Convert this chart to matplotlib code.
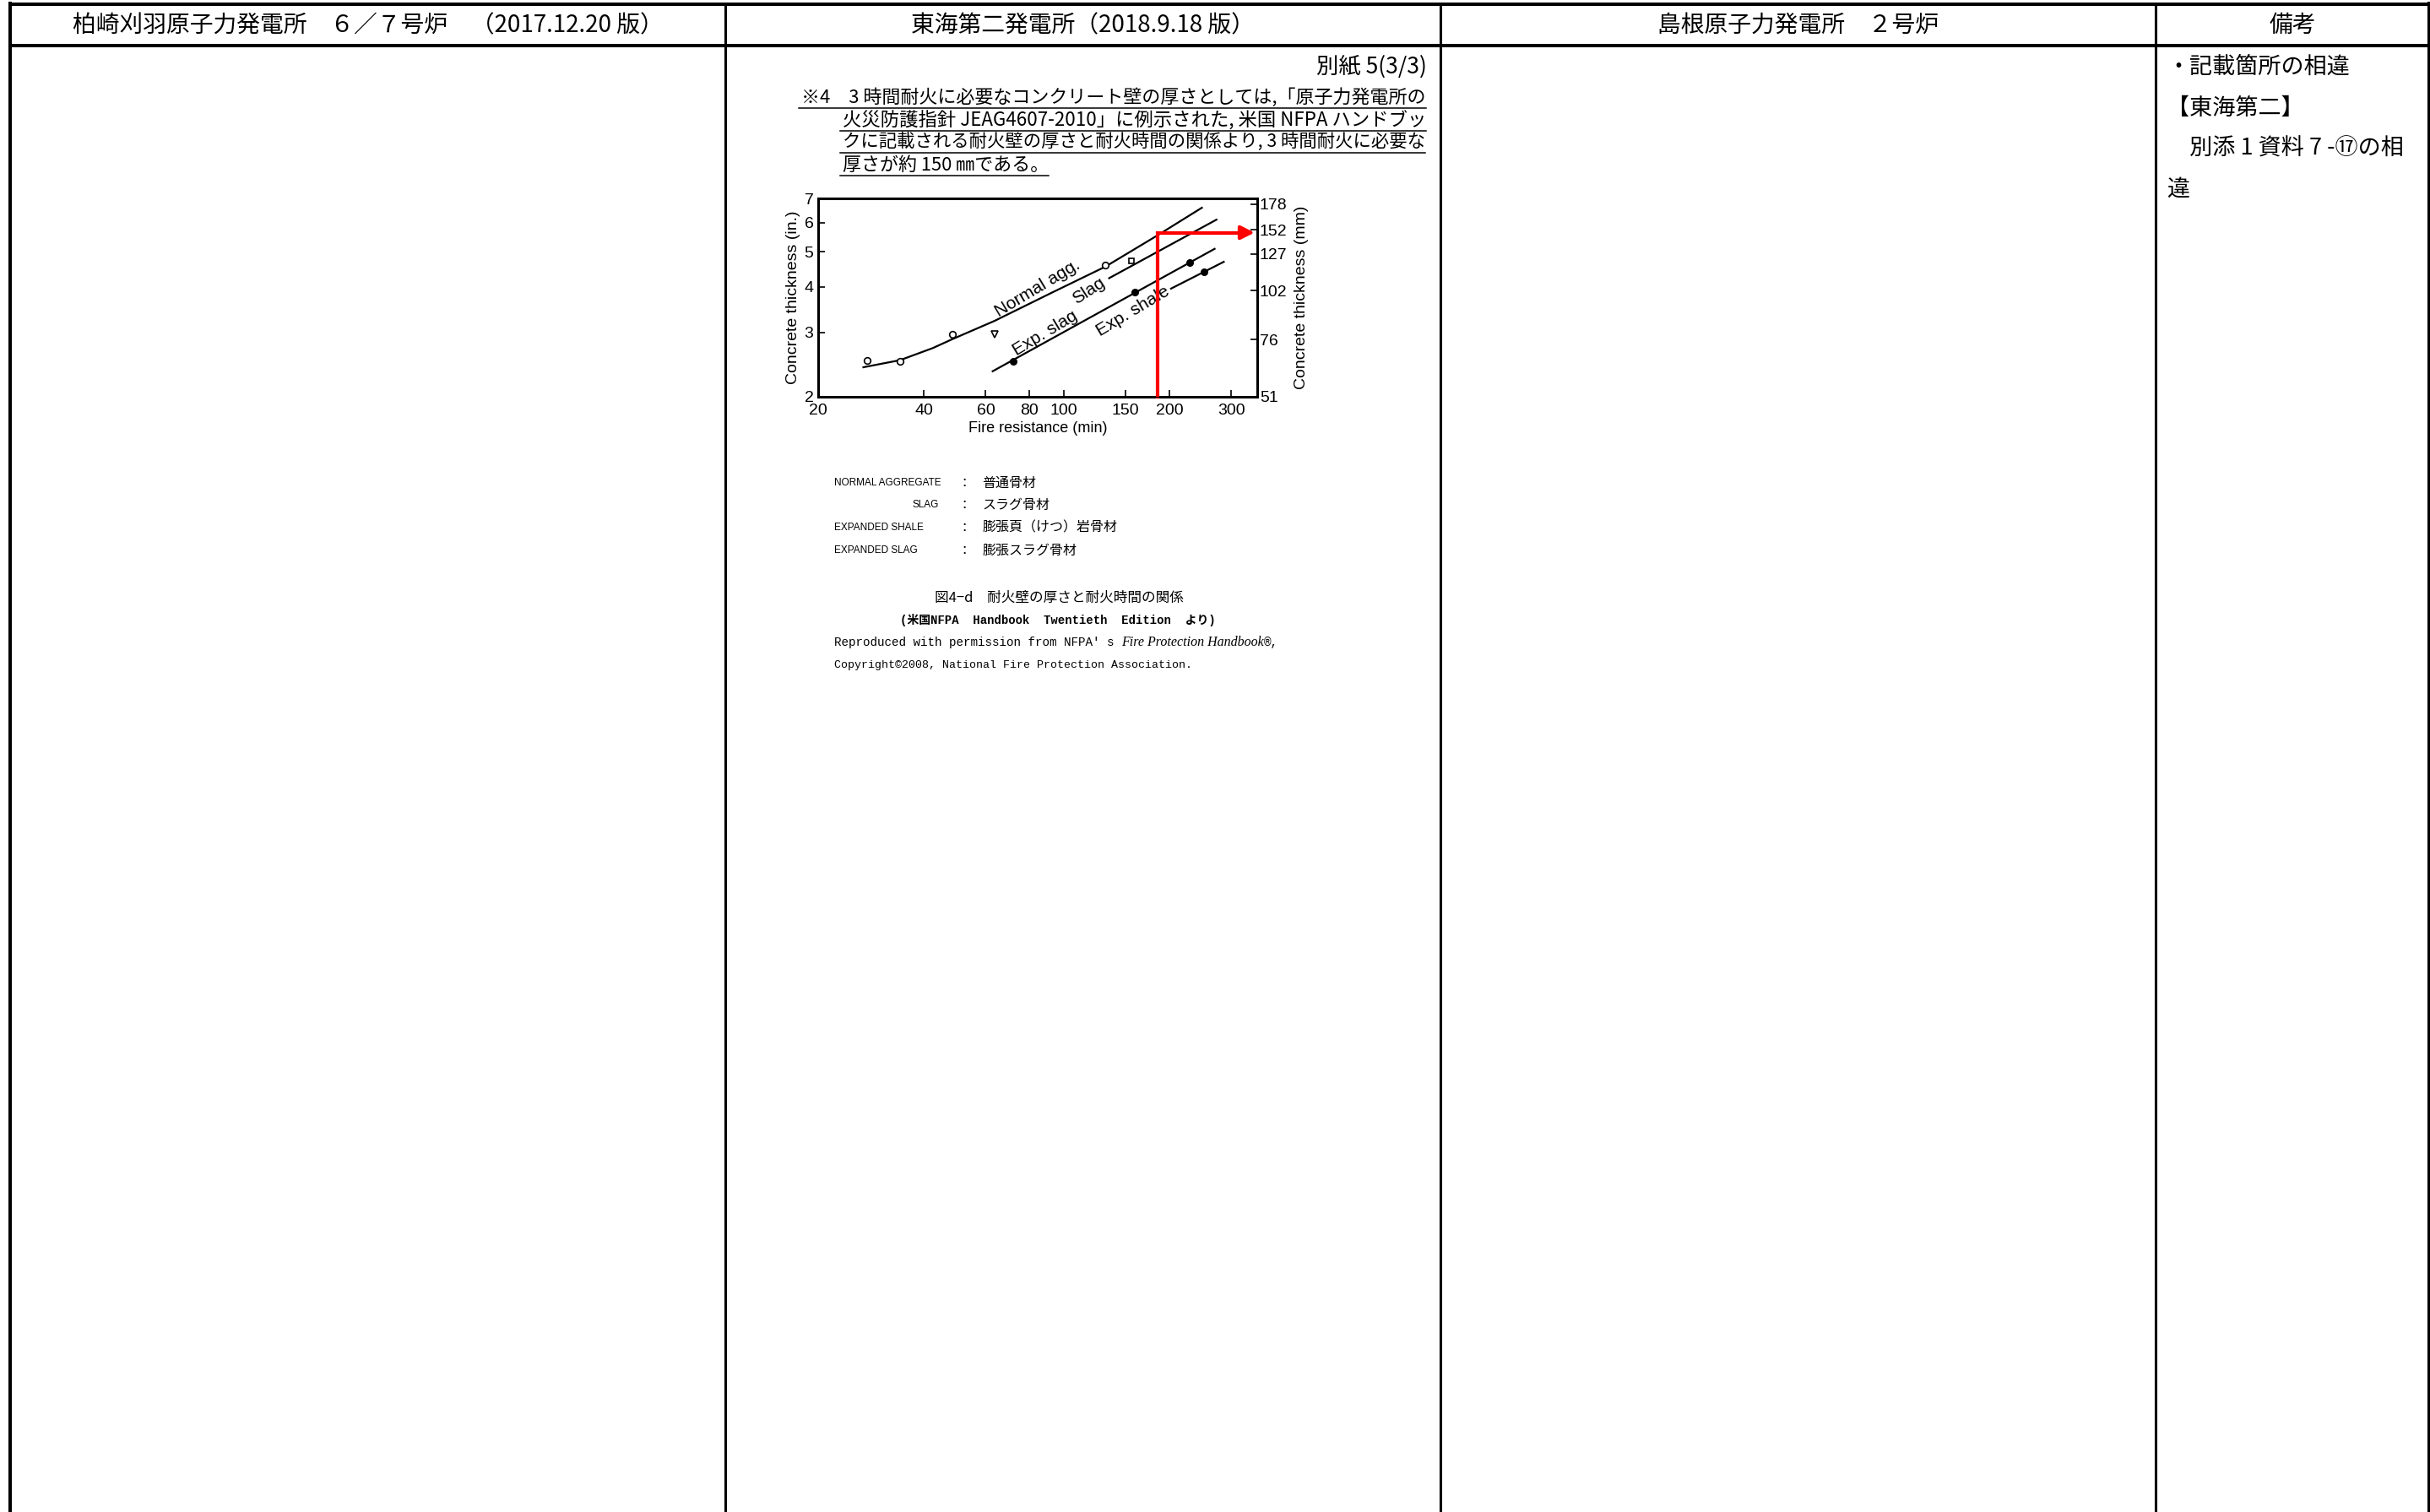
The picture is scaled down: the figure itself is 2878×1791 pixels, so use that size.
import matplotlib
matplotlib.use("Agg")
import matplotlib.pyplot as plt
from matplotlib.ticker import NullLocator

plt.rcParams['font.family'] = ['Noto Sans CJK JP', 'DejaVu Sans']

W, H = 2878, 1791

# ---- page text ----
headers = ["柏崎刈羽原子力発電所　６／７号炉　（2017.12.20 版）",
           "東海第二発電所（2018.9.18 版）",
           "島根原子力発電所　２号炉",
           "備考"]
sheet_no = "別紙 5(3/3)"
note_lines = ["※4　3 時間耐火に必要なコンクリート壁の厚さとしては,「原子力発電所の",
              "火災防護指針 JEAG4607-2010」に例示された, 米国 NFPA ハンドブッ",
              "クに記載される耐火壁の厚さと耐火時間の関係より, 3 時間耐火に必要な",
              "厚さが約 150 ㎜である。"]
remarks = ["・記載箇所の相違", "【東海第二】", "　別添 1 資料 7 -⑰の相", "違"]
legend_en = ["NORMAL AGGREGATE", "SLAG", "EXPANDED SHALE", "EXPANDED SLAG"]
legend_jp = ["普通骨材", "スラグ骨材", "膨張頁（けつ）岩骨材", "膨張スラグ骨材"]
caption = "図4−d　耐火壁の厚さと耐火時間の関係"
source = "(米国NFPA  Handbook  Twentieth  Edition  より)"

# ---- chart data (fire resistance min, thickness in.) ----
normal_x = [26.9, 34.2, 42.4, 48.3, 63.6, 93.1, 131.6, 183.8, 247.7]
normal_y = [2.41, 2.52, 2.72, 2.88, 3.23, 3.87, 4.55, 5.52, 6.60]
normal_pts_x = [27.6, 34.2, 48.3, 131.6]
normal_pts_y = [2.51, 2.50, 2.97, 4.59]
tri_x, tri_y = [63.6], [2.96]
sq_x, sq_y = [155.6], [4.71]
slag_x = [134.8, 272.5]
slag_y = [4.23, 6.12]
expslag_x = [62.8, 269.2]
expslag_y = [2.35, 5.09]
expslag_pts_x = [71.7, 159.2, 228.0]
expslag_pts_y = [2.50, 3.87, 4.66]
expshale_x = [202.3, 285.9]
expshale_y = [3.96, 4.69]
expshale_pts_x = [250.7]
expshale_pts_y = [4.41]
red_x = [185.1, 185.1, 330.0]
red_y = [2.0, 5.64, 5.64]
x_ticks = [20, 40, 60, 80, 100, 150, 200, 300]
in_ticks = [2, 3, 4, 5, 6, 7]
mm_pos = [2.0, 2.87, 3.91, 4.93, 5.74, 6.75]
mm_labels = ["51", "76", "102", "127", "152", "178"]

mono = 'Liberation Mono'
cjk = 'Noto Sans CJK JP'
sans = 'Liberation Sans'

fig = plt.figure(figsize=(W / 100, H / 100), dpi=100)
page = fig.add_axes([0, 0, 1, 1])
page.set_xlim(0, W)
page.set_ylim(H, 0)
page.axis('off')

# table frame
col_x = [12, 859, 1706, 2553, 2877]
for i, x in enumerate(col_x):
    lw = 2.9 if i in (0, len(col_x) - 1) else 2.2
    page.plot([x, x], [4, H + 5], color='black', lw=lw, solid_capstyle='projecting')
for y in (5, 54):
    page.plot([col_x[0], col_x[-1]], [y, y], color='black', lw=2.9, solid_capstyle='projecting')
for i, h in enumerate(headers):
    page.text((col_x[i] + col_x[i + 1]) / 2, 30, h, ha='center', va='center', fontsize=20)

# note block (full lines stretched to the right margin like the justified original)
page.text(1690, 79, sheet_no, ha='right', va='center', fontsize=19)
note_x = [949, 998, 998, 998]
note_y = [116, 143, 169, 196]
right_edge = 1690
renderer = fig.canvas.get_renderer()
inv = page.transData.inverted()
for i, (x, y, s) in enumerate(zip(note_x, note_y, note_lines)):
    t = page.text(x, y, s, ha='left', va='center', fontsize=15.8)
    if i < len(note_lines) - 1:
        bb = t.get_window_extent(renderer)
        w = inv.transform((bb.x1, 0))[0] - x
        t.set_fontsize(15.8 * (right_edge - x) / w)
    bb = t.get_window_extent(renderer)
    x1 = inv.transform((bb.x1, 0))[0]
    page.plot([x - 3, x1], [y + 12, y + 12], color='black', lw=1.1)

# remarks column
rem_x = [2566, 2566, 2566, 2566]
rem_y = [79, 128, 176, 224]
for x, y, s in zip(rem_x, rem_y, remarks):
    page.text(x, y, s, ha='left', va='center', fontsize=19.5)

# legend of materials
leg_y = [572, 598, 625, 652]
for en, jp, y in zip(legend_en, legend_jp, leg_y):
    if en == "SLAG":
        page.text(1112, y, en, ha='right', va='center', fontsize=8.5, family=sans)
    else:
        page.text(988, y, en, ha='left', va='center', fontsize=8.5, family=sans)
    page.text(1142, y, "：", ha='center', va='center', fontsize=11)
    page.text(1163, y, jp, ha='left', va='center', fontsize=11.5)
page.text(1254, 708, caption, ha='center', va='center', fontsize=12)
page.text(1253, 734, source, ha='center', va='center', fontsize=10, weight='bold',
          family=[mono, cjk])
t1 = page.text(988, 761, "Reproduced with permission from NFPA' s ", ha='left', va='center',
               fontsize=10.3, family=mono)
x1 = inv.transform((t1.get_window_extent(renderer).x1, 0))[0]
t2 = page.text(x1, 761, "Fire Protection Handbook", ha='left', va='center', fontsize=11.5,
               family='Liberation Serif', style='italic')
x2 = inv.transform((t2.get_window_extent(renderer).x1, 0))[0]
page.text(x2, 761, "®,", ha='left', va='center', fontsize=10.3, family=mono)
page.text(988, 788, "Copyright©2008, National Fire Protection Association.", ha='left',
          va='center', fontsize=9.5, family=mono)

# ---- chart ----
ax = fig.add_axes([969 / W, 1 - 470 / H, 520 / W, 235 / H])
ax.set_xscale('log')
ax.set_yscale('log')
ax.set_xlim(20, 356)
ax.set_ylim(2, 7)
ax.set_xticks(x_ticks)
ax.set_xticklabels([str(v) for v in x_ticks])
ax.set_yticks(in_ticks)
ax.set_yticklabels([str(v) for v in in_ticks])
ax.xaxis.set_minor_locator(NullLocator())
ax.yaxis.set_minor_locator(NullLocator())
for sp in ax.spines.values():
    sp.set_linewidth(2.2)
ax.tick_params(direction='in', length=6, width=1.2, labelsize=14, pad=4)
ax.tick_params(axis='x', pad=6)
for lab in ax.get_xticklabels() + ax.get_yticklabels():
    lab.set_family(sans)
ax.set_xlabel("Fire resistance (min)", family=sans, fontsize=13, labelpad=3)
ax.set_ylabel("Concrete thickness (in.)", family=sans, fontsize=14, labelpad=3)

ax2 = ax.twinx()
ax2.set_yscale('log')
ax2.set_ylim(2, 7)
ax2.set_yticks(mm_pos)
ax2.set_yticklabels(mm_labels)
ax2.yaxis.set_minor_locator(NullLocator())
ax2.tick_params(direction='in', length=6, width=1.2, labelsize=14, pad=2)
for lab in ax2.get_yticklabels():
    lab.set_family(sans)
ax2.set_ylabel("Concrete thickness (mm)", family=sans, fontsize=14, labelpad=6)

ax.plot(normal_x, normal_y, color='black', lw=1.6)
ax.plot(slag_x, slag_y, color='black', lw=1.6)
ax.plot(expslag_x, expslag_y, color='black', lw=1.6)
ax.plot(expshale_x, expshale_y, color='black', lw=1.6)
ax.plot(normal_pts_x, normal_pts_y, 'o', ms=5.5, mfc='white', mec='black', mew=1.2)
ax.plot(tri_x, tri_y, 'v', ms=6, mfc='white', mec='black', mew=1.2)
ax.plot(sq_x, sq_y, 's', ms=5, mfc='white', mec='black', mew=1.2)
ax.plot(expslag_pts_x + expshale_pts_x, expslag_pts_y + expshale_pts_y, 'o', ms=5.5,
        color='black')

lab_kw = dict(family=sans, fontsize=15, ha='center', va='center', rotation_mode='anchor')
ax.text(84.5, 3.96, "Normal agg.", rotation=31, **lab_kw)
ax.text(118.2, 3.90, "Slag", rotation=33, **lab_kw)
ax.text(88.8, 2.99, "Exp. slag", rotation=31, **lab_kw)
ax.text(157.5, 3.44, "Exp. shale", rotation=31, **lab_kw)

ax.plot(red_x, red_y, color='red', lw=3, clip_on=False, zorder=5, solid_joinstyle='miter')
ax.annotate('', xy=(350, red_y[-1]), xytext=(320, red_y[-1]),
            arrowprops=dict(arrowstyle='-|>', color='red', lw=3, mutation_scale=24,
                            shrinkA=0, shrinkB=0), zorder=6, annotation_clip=False)

fig.savefig('out.png', dpi=100)
